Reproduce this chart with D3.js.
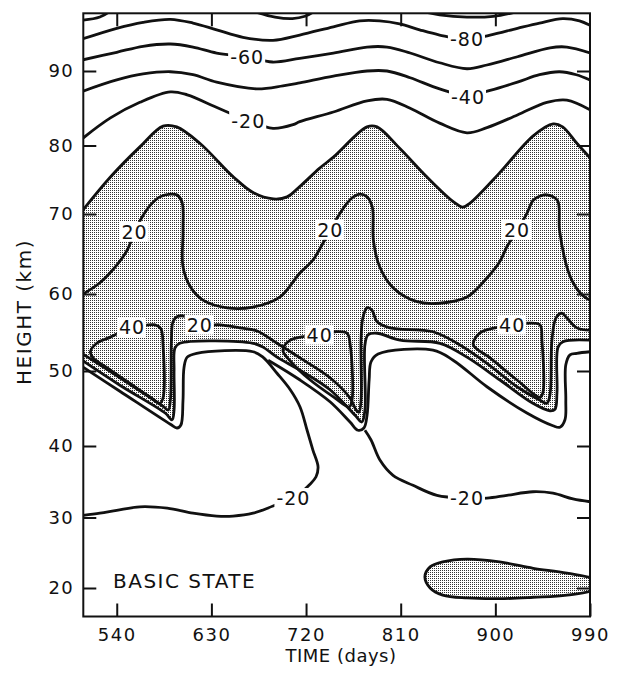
<!DOCTYPE html>
<html>
<head>
<meta charset="utf-8">
<script src="https://cdn.jsdelivr.net/npm/d3@7"></script>
<style>
  body { margin: 0; background: #fff; }
  text { font-family: 'DejaVu Sans', sans-serif; fill: #111; }
</style>
</head>
<body>
<svg id="chart" width="618" height="679"></svg>
<script>
// ---- data : [day, km] ----
const xTicks = [540, 630, 720, 810, 900, 990]
const yTicks = [20, 30, 40, 50, 60, 70, 80, 90]

const minus100a = [[508, 96.8], [524, 97.2], [536, 98.2]]
const minus100b = [[674, 97.8], [690.5, 97.2], [707, 97.0], [719, 97.3], [726, 97.8]]
const minus100c = [[836, 97.8], [847, 97.5], [873, 97.2], [898, 97.3], [917, 97.8]]

const minus80 = [[508, 94.3], [540, 95.7], [565, 96.5], [591, 96.9], [612.5, 96.4], [635, 95.5], [660, 94.5], [688.6, 94.1], [714, 94.8], [746, 95.9], [771, 96.7], [790, 96.7], [809, 96.3], [828, 95.5], [847, 94.8], [873, 94.2], [895, 94.8], [921, 95.7], [942, 96.4], [964, 97.0], [980, 96.7], [990, 96.1]]
const minus60 = [[508, 91.5], [540, 92.5], [565, 93.3], [591, 93.6], [612.5, 93.2], [635, 92.4], [664, 91.9], [688, 91.2], [714, 91.7], [746, 92.4], [778, 93.2], [797, 93.2], [819, 92.4], [847, 91.1], [873, 90.3], [892, 90.8], [921, 91.9], [952, 93.1], [968, 93.2], [990, 92.4]]
const minus40 = [[508, 87.3], [540, 88.8], [565, 89.6], [591, 89.9], [612.5, 89.5], [635, 88.5], [673, 87.6], [698, 88.0], [714, 88.4], [746, 89.3], [778, 90.0], [797, 90.0], [819, 89.1], [847, 87.6], [873, 86.7], [895, 87.4], [921, 88.5], [942, 89.5], [961, 89.9], [977, 89.5], [990, 88.8]]
const minus20 = [[508, 81.0], [534, 83.7], [562, 85.8], [591, 87.2], [607, 86.8], [632, 85.3], [645, 84.5], [665, 83.3], [688.6, 82.3], [707.7, 82.8], [714, 83.2], [746, 84.5], [778, 86.0], [797, 86.2], [819, 85.0], [847, 83.0], [873, 81.7], [892, 82.4], [921, 84.1], [949, 85.8], [968, 86.1], [990, 84.8]]
const zeroTop = [[508, 70.6], [534, 75.4], [562, 79.8], [584, 82.6], [597, 82.5], [619, 80.3], [651, 75.4], [670, 73.1], [689, 72.2], [702, 72.5], [714, 74.0], [733, 76.7], [746, 78.3], [778, 82.5], [787.5, 82.5], [809, 79.6], [835, 75.4], [860, 71.8], [869, 71.0], [876, 71.6], [904, 76.0], [936, 81.3], [955, 82.9], [964, 82.5], [977.5, 80.3], [990, 78.2]]
const plus20Upper = [[508, 60.0], [524, 61.4], [540, 63.6], [550, 65.5], [557, 67.75], [564, 69.6], [572, 71.3], [581, 72.5], [591, 72.9], [597, 72.8], [602, 71.8], [603, 68.0], [603, 63.4], [610, 60.9], [622, 59.2], [645, 58.2], [669.6, 58.3], [695, 59.6], [714, 62.6], [726.6, 64.25], [735, 66.1], [743, 68.0], [749.5, 69.5], [759, 71.6], [765, 72.5], [771, 72.9], [778, 72.5], [783, 71.0], [784, 66.75], [790, 63.4], [803, 60.75], [825.5, 59.0], [847, 58.8], [873, 59.6], [892, 62.0], [904, 64.0], [911, 65.9], [921, 68.0], [930, 70.1], [936, 72.0], [942, 72.6], [949, 72.8], [959, 72.0], [961, 68.0], [968, 63.4], [974, 61.4], [983, 59.8], [990, 59.2]]

const plus40a = [[515, 52.5], [521, 53.6], [534, 54.4], [548, 55.3], [562, 55.8], [576.5, 56.0], [582, 55.5], [584, 53.4], [584, 46.4], [581, 45.7], [572, 46.5], [553, 48.3], [531, 50.4], [517.5, 51.7]]
const plus40b = [[698, 52.7], [705, 54.0], [719, 54.5], [733, 54.7], [747.6, 55.1], [759, 54.9], [762, 53.4], [763.7, 46.1], [761, 45.2], [747.6, 46.4], [724, 48.8], [705, 51.3]]
const plus40c = [[879, 53.4], [885, 54.9], [899.6, 55.6], [915.8, 56.0], [930, 56.2], [942.4, 56.0], [944.3, 54.0], [945.2, 47.1], [942.4, 46.5], [920.6, 48.8], [895, 51.7]]

const plus20Lower = [[508, 52.2], [543, 49.1], [584, 45.3], [589, 44.8], [591, 46.1], [592, 54.0], [593.5, 56.4], [598, 57.1], [610, 56.9], [619, 56.0], [638, 56.0], [657, 55.6], [673.4, 55.2], [692.4, 53.6], [714.3, 51.7], [742.8, 49.1], [761.8, 46.4], [767.6, 44.8], [770.3, 44.5], [772.3, 46.1], [772.3, 54.0], [774, 56.9], [778, 58.2], [782.7, 57.9], [787.5, 56.4], [799.9, 55.6], [840.7, 55.1], [863.6, 53.6], [892, 51.0], [920.6, 47.9], [942.4, 46.1], [949, 45.7], [951.9, 46.8], [953.8, 54.0], [957.7, 56.9], [963.3, 57.5], [968, 56.9], [977.5, 55.6], [990, 55.3]]
const zeroLower = [[508, 51.3], [543, 48.1], [586, 44.4], [592.6, 43.5], [594.5, 44.8], [594.5, 50.1], [595.4, 53.0], [600, 53.6], [669.6, 53.6], [679, 53.1], [692.4, 51.8], [714.3, 50.1], [742.8, 47.5], [766.6, 44.1], [773, 43.2], [776, 44.8], [776, 53.4], [779, 54.7], [787.5, 54.9], [809.4, 54.0], [847.4, 53.6], [873, 51.8], [904.4, 48.8], [935.7, 45.7], [951.9, 44.7], [956.7, 44.9], [958.6, 47.1], [959.6, 53.1], [964.3, 53.8], [990, 54.0]]
const minus20Left = [[508, 50.5], [543, 47.3], [591, 42.9], [597.3, 42.4], [601, 42.8], [603, 46.1], [604, 50.5], [607, 51.8], [616, 52.3], [669.6, 52.5], [679, 51.8], [692.4, 49.7], [705, 47.5], [714.3, 45.2], [721, 42.1], [726.6, 39.4], [731.4, 37.1], [729.5, 35.7], [724, 34.7], [707.7, 32.7], [688.6, 31.6], [669.6, 30.6], [650.6, 30.2], [635, 30.2], [612.5, 30.6], [588, 31.3], [562, 31.5], [540, 31.0], [524, 30.6], [508, 30.3]]
const minus20Middle = [[684, 51.4], [714.3, 48.8], [742.8, 45.9], [761.8, 43.2], [769.4, 42.1], [775, 42.4], [778, 44.1], [780, 48.8], [781.8, 51.2], [788.5, 52.2], [840.7, 52.7], [859.8, 51.4], [892, 47.9], [930, 44.4], [954.8, 42.7], [961.4, 42.5], [966.2, 43.5], [967, 46.1], [967, 50.8], [971, 52.1], [977.5, 52.3], [990, 52.5]]
const minus20Right = [[776, 42.1], [781.8, 40.8], [790.4, 38.0], [802.7, 35.9], [821.7, 34.5], [844.5, 33.1], [873, 32.7], [892, 32.7], [911, 33.1], [935.7, 33.6], [954.8, 33.4], [973.8, 32.6], [990, 32.2]]
const zeroBlob = [[833, 21.6], [838, 23.0], [850, 23.7], [873, 24.1], [904, 23.7], [936, 22.8], [968, 22.1], [995, 21.1], [995, 19.9], [968, 19.0], [936, 18.7], [904, 18.5], [873, 18.6], [850, 19.0], [838, 20.0]]

const openLines = [minus100a, minus100b, minus100c, minus80, minus60, minus40, minus20, zeroTop, plus20Upper, plus20Lower, zeroLower, minus20Left, minus20Middle, minus20Right]
const closedLines = [plus40a, plus40b, plus40c, zeroBlob]

const labelText = ['-80', '-60', '-40', '-20', '20', '20', '20', '40', '20', '40', '40', '-20', '-20']
const labelDay = [873, 664, 874, 665, 557, 743, 920.6, 554.5, 619, 733, 916, 708, 873]
const labelKm = [94.3, 91.9, 86.5, 83.3, 67.75, 68.0, 68.0, 55.7, 56.0, 54.7, 56.0, 32.7, 32.7]

// ---- scales ----
const svg = d3.select('#chart')
const x = d3.scaleLinear().domain([508.2, 990]).range([83.3, 590])
const y = d3.scaleLinear()
  .domain([16, 20, 30, 40, 50, 60, 70, 80, 90, 97.7])
  .range([616.5, 588, 517.5, 446, 371, 294, 214, 145.5, 71, 13.3])

const defs = svg.append('defs')
defs.append('clipPath').attr('id', 'plotClip')
  .append('rect')
  .attr('x', x(508.2)).attr('y', y(97.7))
  .attr('width', x(990) - x(508.2)).attr('height', y(16) - y(97.7))

const pat = defs.append('pattern').attr('id', 'stipple')
  .attr('patternUnits', 'userSpaceOnUse')
  .attr('width', 2).attr('height', 2)
pat.append('rect').attr('width', 2).attr('height', 2).attr('fill', '#fff')
pat.append('rect').attr('width', 1).attr('height', 1).attr('fill', '#333')

const plot = svg.append('g').attr('clip-path', 'url(#plotClip)')

const line = d3.line()
  .x(d => x(d[0]))
  .y(d => y(d[1]))
  .curve(d3.curveCatmullRom.alpha(0.5))
const closedLine = d3.line()
  .x(d => x(d[0]))
  .y(d => y(d[1]))
  .curve(d3.curveCatmullRomClosed.alpha(0.5))

// shaded (positive) regions
const bandPath = line(zeroTop) + 'L' + line(zeroLower.slice().reverse()).slice(1) + 'Z'
plot.append('path').attr('d', bandPath).attr('fill', 'url(#stipple)')
plot.append('path').attr('d', closedLine(zeroBlob)).attr('fill', 'url(#stipple)')

// contour lines
plot.selectAll('.contour')
  .data(openLines)
  .join('path')
  .attr('class', 'contour')
  .attr('d', line)
  .attr('fill', 'none')
  .attr('stroke', '#111')
  .attr('stroke-width', 2.8)
  .attr('stroke-linejoin', 'round')

plot.selectAll('.closed')
  .data(closedLines)
  .join('path')
  .attr('class', 'closed')
  .attr('d', closedLine)
  .attr('fill', 'none')
  .attr('stroke', '#111')
  .attr('stroke-width', 2.8)

// contour labels with white boxes
const labels = plot.selectAll('.clabel')
  .data(labelText)
  .join('g')
  .attr('class', 'clabel')
  .attr('transform', (d, i) => 'translate(' + x(labelDay[i]) + ',' + y(labelKm[i]) + ')')
labels.append('rect')
labels.append('text')
  .text(d => d)
  .attr('text-anchor', 'middle')
  .attr('dy', '0.36em')
  .attr('font-size', 19)
  .attr('letter-spacing', 1)
labels.each(function () {
  const g = d3.select(this)
  const b = g.select('text').node().getBBox()
  g.select('rect')
    .attr('x', b.x - 2).attr('y', b.y + 1)
    .attr('width', b.width + 3).attr('height', b.height - 2)
    .attr('fill', '#fff')
})

// frame and axes
const axisStyle = g => {
  g.select('.domain').remove()
  g.selectAll('line').attr('stroke', '#111').attr('stroke-width', 2)
  g.selectAll('text')
    .attr('font-size', 18)
    .attr('letter-spacing', 1.5)
    .attr('font-family', "'DejaVu Sans', sans-serif")
    .attr('fill', '#111')
}

svg.append('g')
  .attr('transform', 'translate(0,' + y(16) + ')')
  .call(d3.axisBottom(x).tickValues(xTicks).tickSizeInner(-13).tickSizeOuter(0).tickPadding(12))
  .call(axisStyle)
svg.append('g')
  .attr('transform', 'translate(0,' + y(97.7) + ')')
  .call(d3.axisTop(x).tickValues(xTicks.slice(0, 5)).tickSizeInner(-13).tickSizeOuter(0).tickFormat(''))
  .call(axisStyle)
svg.append('g')
  .attr('transform', 'translate(' + x(508.2) + ',0)')
  .call(d3.axisLeft(y).tickValues(yTicks).tickSizeInner(-13).tickSizeOuter(0).tickPadding(9))
  .call(axisStyle)
svg.append('g')
  .attr('transform', 'translate(' + x(990) + ',0)')
  .call(d3.axisRight(y).tickValues(yTicks).tickSizeInner(-13).tickSizeOuter(0).tickFormat(''))
  .call(axisStyle)

svg.append('rect')
  .attr('x', x(508.2)).attr('y', y(97.7))
  .attr('width', x(990) - x(508.2)).attr('height', y(16) - y(97.7))
  .attr('fill', 'none')
  .attr('stroke', '#111')
  .attr('stroke-width', 2)

// titles
svg.append('text')
  .text('TIME (days)')
  .attr('x', 341).attr('y', 662)
  .attr('text-anchor', 'middle')
  .attr('font-size', 18)
  .attr('letter-spacing', 0.5)
svg.append('text')
  .text('HEIGHT (km)')
  .attr('transform', 'translate(31,312) rotate(-90)')
  .attr('text-anchor', 'middle')
  .attr('font-size', 20)
  .attr('letter-spacing', 1.5)
svg.append('text')
  .text('BASIC STATE')
  .attr('x', 113).attr('y', 588)
  .attr('font-size', 20)
  .attr('letter-spacing', 1.5)
</script>
</body>
</html>
